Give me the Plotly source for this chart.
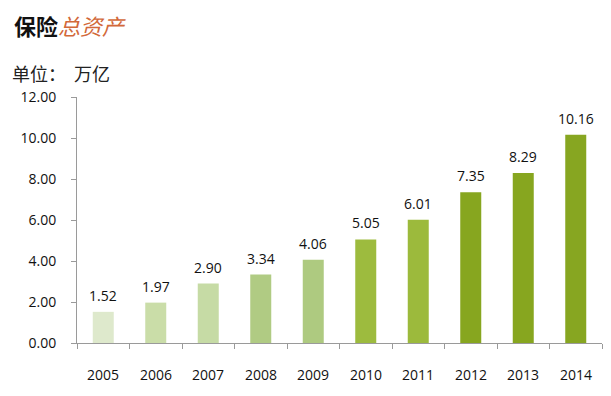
import plotly.graph_objects as go

years = ["2005", "2006", "2007", "2008", "2009", "2010", "2011", "2012", "2013", "2014"]
assets = [1.52, 1.97, 2.90, 3.34, 4.06, 5.05, 6.01, 7.35, 8.29, 10.16]
bar_colors = ["#DEE9CC", "#CADDA8", "#C6DBA5", "#B0CB83", "#AECA80",
              "#9DBB3E", "#9CBA3C", "#87A61F", "#87A61F", "#87A621"]
y_ticks = [0, 2, 4, 6, 8, 10, 12]

fig = go.Figure()
fig.add_trace(go.Bar(
    x=years, y=assets,
    marker=dict(color=bar_colors, line=dict(width=0)),
    width=0.4,
))

# annotations on a category axis are placed by category index
annotations = [
    dict(x=i, y=v, xref="x", yref="y", text=f"{v:.2f}", showarrow=False,
         xanchor="center", yanchor="bottom", yshift=5,
         font=dict(family="Open Sans", size=14, color="#111111"))
    for i, v in enumerate(assets)
]
annotations += [
    dict(x=i, y=0, xref="x", yref="paper", text=yr, showarrow=False,
         xanchor="center", yanchor="middle", yshift=-31,
         font=dict(family="Open Sans", size=14, color="#111111"))
    for i, yr in enumerate(years)
]
annotations += [
    dict(xref="paper", yref="paper", x=0, y=1.0, xanchor="left", yanchor="bottom",
         xshift=-65, yshift=54, showarrow=False,
         text="<b>保险</b><span style='color:#D2693A'><i>总资产</i></span>",
         font=dict(family="Noto Sans CJK SC", size=22, color="#111111")),
    dict(xref="paper", yref="paper", x=0, y=1.0, xanchor="left", yanchor="bottom",
         xshift=-67, yshift=9, showarrow=False,
         text="单位：  万亿",
         font=dict(family="Noto Sans CJK SC", size=18, color="#222222")),
]

fig.update_layout(
    width=611, height=396,
    margin=dict(l=64, r=17, t=89, b=61),
    paper_bgcolor="white", plot_bgcolor="white",
    showlegend=False,
    xaxis=dict(
        type="category", range=[-0.5, len(years) - 0.5],
        showline=True, linecolor="#9A9A9A", linewidth=1,
        ticks="outside", ticklen=5, tickcolor="#9A9A9A",
        tickson="boundaries", showticklabels=False,
        showgrid=False,
    ),
    yaxis=dict(
        range=[0, 12], tickvals=y_ticks,
        ticktext=[f"{v:.2f}" for v in y_ticks],
        showline=True, linecolor="#9A9A9A", linewidth=1,
        ticks="outside", ticklen=5, tickcolor="#9A9A9A",
        ticklabelstandoff=12,
        tickfont=dict(family="Open Sans", size=14, color="#111111"),
        showgrid=False, zeroline=False,
    ),
    annotations=annotations,
)

fig.write_html("out.html")
